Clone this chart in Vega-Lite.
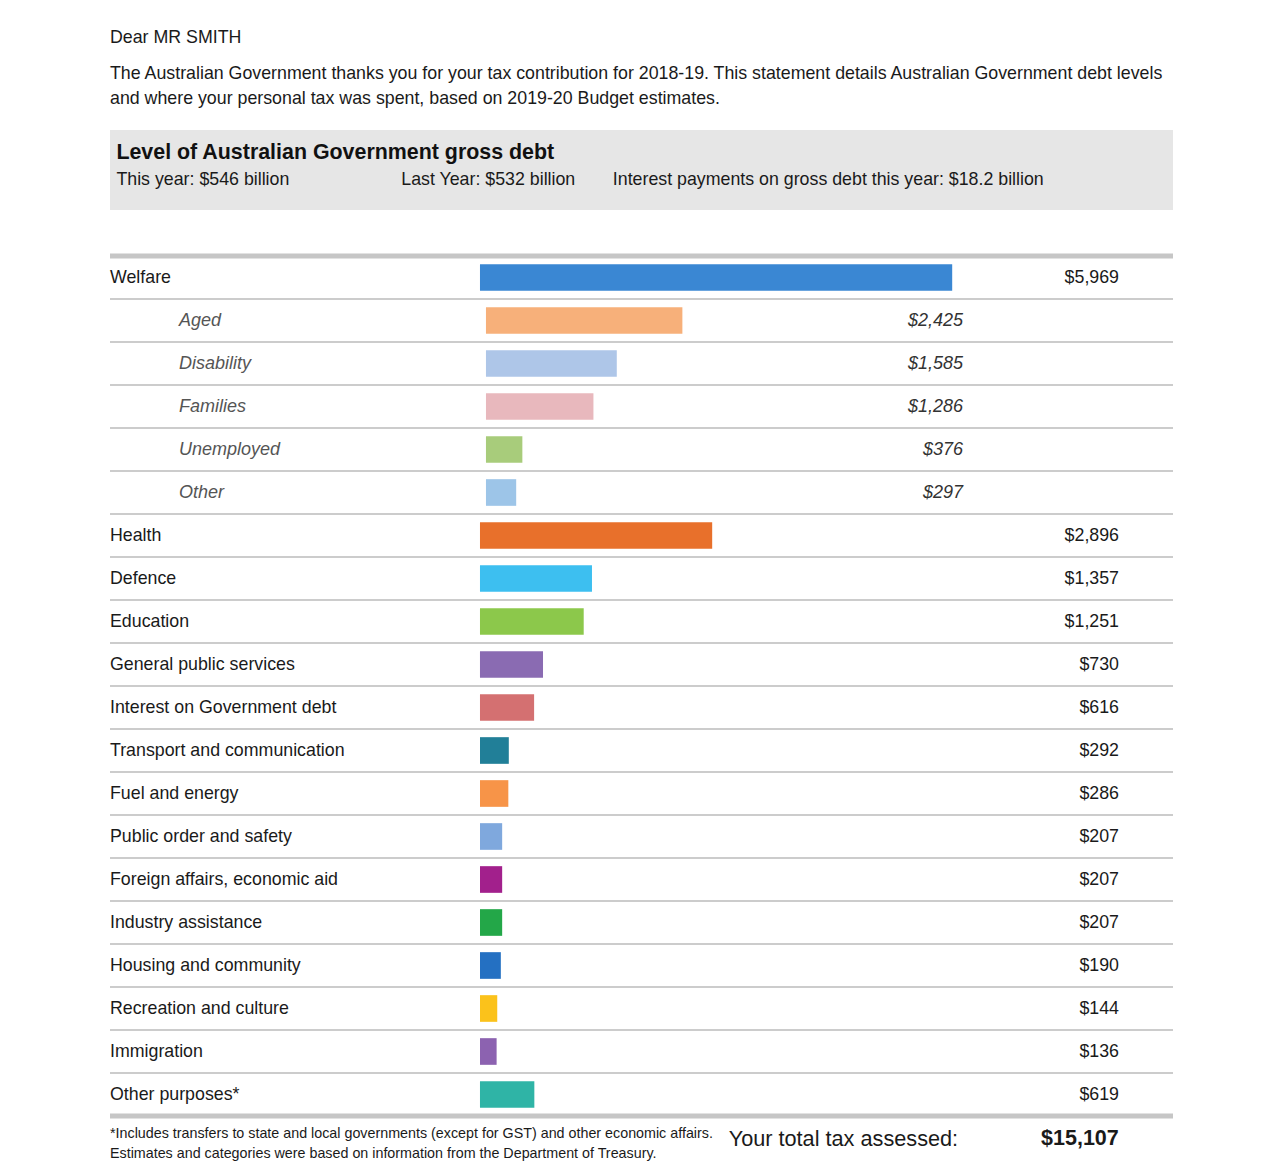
{
  "$schema": "https://vega.github.io/schema/vega-lite/v6.json",
  "background": "white",
  "padding": {"left": 107, "top": 29, "right": 110, "bottom": 0},
  "config": {
    "font": "Liberation Sans, Arial, sans-serif",
    "view": {"stroke": null},
    "text": {"font": "Liberation Sans, Arial, sans-serif", "color": "#1a1a1a"},
    "title": {"font": "Liberation Sans, Arial, sans-serif", "subtitleFont": "Liberation Sans, Arial, sans-serif"}
  },
  "datasets": {
    "rows": [
      {"category": "Welfare", "level": "main", "amount": 5969},
      {"category": "Aged", "level": "sub", "amount": 2425},
      {"category": "Disability", "level": "sub", "amount": 1585},
      {"category": "Families", "level": "sub", "amount": 1286},
      {"category": "Unemployed", "level": "sub", "amount": 376},
      {"category": "Other", "level": "sub", "amount": 297},
      {"category": "Health", "level": "main", "amount": 2896},
      {"category": "Defence", "level": "main", "amount": 1357},
      {"category": "Education", "level": "main", "amount": 1251},
      {"category": "General public services", "level": "main", "amount": 730},
      {"category": "Interest on Government debt", "level": "main", "amount": 616},
      {"category": "Transport and communication", "level": "main", "amount": 292},
      {"category": "Fuel and energy", "level": "main", "amount": 286},
      {"category": "Public order and safety", "level": "main", "amount": 207},
      {"category": "Foreign affairs, economic aid", "level": "main", "amount": 207},
      {"category": "Industry assistance", "level": "main", "amount": 207},
      {"category": "Housing and community", "level": "main", "amount": 190},
      {"category": "Recreation and culture", "level": "main", "amount": 144},
      {"category": "Immigration", "level": "main", "amount": 136},
      {"category": "Other purposes*", "level": "main", "amount": 619}
    ]
  },
  "spacing": 0,
  "vconcat": [
    {
      "spacing": 43,
      "vconcat": [
        {
          "width": 1063,
          "height": 80,
          "view": {"fill": "#e6e6e6", "stroke": null},
          "title": {
            "text": "Dear MR SMITH",
            "subtitle": [
              "The Australian Government thanks you for your tax contribution for 2018-19. This statement details Australian Government debt levels",
              "and where your personal tax was spent, based on 2019-20 Budget estimates."
            ],
            "anchor": "start",
            "frame": "group",
            "fontSize": 17.8,
            "fontWeight": "normal",
            "color": "#1a1a1a",
            "subtitleFontSize": 17.8,
            "subtitleColor": "#1a1a1a",
            "subtitleLineHeight": 25,
            "subtitlePadding": 18,
            "offset": 22
          },
          "data": {"values": [{"heading": "Level of Australian Government gross debt", "this_year": "This year: $546 billion", "last_year": "Last Year: $532 billion", "interest": "Interest payments on gross debt this year: $18.2 billion"}]},
          "layer": [
            {
              "mark": {"type": "text", "align": "left", "baseline": "middle", "fontSize": 21.4, "fontWeight": "bold", "color": "#111111"},
              "encoding": {
                "x": {"datum": 0.6, "type": "quantitative", "scale": {"domain": [0, 100], "nice": false, "zero": false}, "axis": null},
                "y": {"datum": 28.5, "type": "quantitative", "scale": {"domain": [0, 100], "reverse": true, "nice": false, "zero": false}, "axis": null},
                "text": {"field": "heading"}
              }
            },
            {
              "mark": {"type": "text", "align": "left", "baseline": "middle", "fontSize": 17.8},
              "encoding": {
                "x": {"datum": 0.6, "type": "quantitative"},
                "y": {"datum": 62, "type": "quantitative"},
                "text": {"field": "this_year"}
              }
            },
            {
              "mark": {"type": "text", "align": "left", "baseline": "middle", "fontSize": 17.8},
              "encoding": {
                "x": {"datum": 27.4, "type": "quantitative"},
                "y": {"datum": 62, "type": "quantitative"},
                "text": {"field": "last_year"}
              }
            },
            {
              "mark": {"type": "text", "align": "left", "baseline": "middle", "fontSize": 17.8},
              "encoding": {
                "x": {"datum": 47.3, "type": "quantitative"},
                "y": {"datum": 62, "type": "quantitative"},
                "text": {"field": "interest"}
              }
            }
          ]
        },
        {
          "width": 1063,
          "height": 860,
          "data": {"name": "rows"},
          "encoding": {
            "y": {
              "field": "category",
              "type": "nominal",
              "sort": null,
              "scale": {
                "domain": ["Welfare", "Aged", "Disability", "Families", "Unemployed", "Other", "Health", "Defence", "Education", "General public services", "Interest on Government debt", "Transport and communication", "Fuel and energy", "Public order and safety", "Foreign affairs, economic aid", "Industry assistance", "Housing and community", "Recreation and culture", "Immigration", "Other purposes*"],
                "paddingInner": 0,
                "paddingOuter": 0
              },
              "axis": null
            }
          },
          "layer": [
            {
              "transform": [{"filter": "datum.category !== 'Other purposes*'"}],
              "mark": {"type": "rule", "color": "#cccccc", "strokeWidth": 2},
              "encoding": {"y": {"field": "category", "type": "nominal", "bandPosition": 1}}
            },
            {
              "transform": [{"filter": "datum.category === 'Welfare'"}],
              "mark": {"type": "rule", "color": "#c6c6c6", "strokeWidth": 5},
              "encoding": {"y": {"field": "category", "type": "nominal", "bandPosition": 0}}
            },
            {
              "transform": [{"filter": "datum.category === 'Other purposes*'"}],
              "mark": {"type": "rule", "color": "#c6c6c6", "strokeWidth": 5},
              "encoding": {"y": {"field": "category", "type": "nominal", "bandPosition": 1}}
            },
            {
              "transform": [{"filter": "datum.level === 'main'"}],
              "mark": {"type": "bar", "height": {"band": 0.62}},
              "encoding": {
                "x": {"field": "amount", "type": "quantitative", "scale": {"domain": [-4814, 8796], "nice": false, "zero": false}, "axis": null},
                "x2": {"datum": -77},
                "color": {
                  "field": "category",
                  "type": "nominal",
                  "scale": {
                    "domain": ["Welfare", "Aged", "Disability", "Families", "Unemployed", "Other", "Health", "Defence", "Education", "General public services", "Interest on Government debt", "Transport and communication", "Fuel and energy", "Public order and safety", "Foreign affairs, economic aid", "Industry assistance", "Housing and community", "Recreation and culture", "Immigration", "Other purposes*"],
                    "range": ["#3a87d3", "#f7b07a", "#aec6e8", "#e8b8bd", "#a8cc7b", "#9dc5e8", "#e8702b", "#3dbff0", "#8cc84b", "#8a6bb2", "#d47071", "#217f98", "#f79448", "#7fa8dd", "#a2208c", "#23a748", "#2470c2", "#fbc21b", "#8c62b0", "#2fb4a6"]
                  },
                  "legend": null
                }
              }
            },
            {
              "transform": [{"filter": "datum.level === 'sub'"}],
              "mark": {"type": "bar", "height": {"band": 0.62}},
              "encoding": {
                "x": {"field": "amount", "type": "quantitative", "scale": {"domain": [-4904, 8707], "nice": false, "zero": false}, "axis": null},
                "x2": {"datum": -90},
                "color": {"field": "category", "type": "nominal", "legend": null}
              }
            },
            {
              "transform": [{"filter": "datum.level === 'main'"}],
              "mark": {"type": "text", "align": "left", "baseline": "middle", "fontSize": 17.8, "color": "#1a1a1a"},
              "encoding": {
                "x": {"field": "level", "type": "nominal", "scale": {"type": "point", "domain": ["main", "sub"], "range": [0, 69], "padding": 0}, "axis": null},
                "text": {"field": "category"}
              }
            },
            {
              "transform": [{"filter": "datum.level === 'sub'"}],
              "mark": {"type": "text", "align": "left", "baseline": "middle", "fontSize": 18, "fontStyle": "italic", "color": "#555555"},
              "encoding": {
                "x": {"field": "level", "type": "nominal", "scale": {"type": "point", "domain": ["main", "sub"], "range": [0, 69], "padding": 0}, "axis": null},
                "text": {"field": "category"}
              }
            },
            {
              "transform": [{"filter": "datum.level === 'main'"}],
              "mark": {"type": "text", "align": "right", "baseline": "middle", "fontSize": 17.8, "color": "#1a1a1a"},
              "encoding": {
                "x": {"field": "level", "type": "nominal", "scale": {"type": "point", "domain": ["main", "sub"], "range": [1009, 853], "padding": 0}, "axis": null},
                "text": {"field": "amount", "type": "quantitative", "format": "$,.0f"}
              }
            },
            {
              "transform": [{"filter": "datum.level === 'sub'"}],
              "mark": {"type": "text", "align": "right", "baseline": "middle", "fontSize": 18, "fontStyle": "italic", "color": "#333333"},
              "encoding": {
                "x": {"field": "level", "type": "nominal", "scale": {"type": "point", "domain": ["main", "sub"], "range": [1009, 853], "padding": 0}, "axis": null},
                "text": {"field": "amount", "type": "quantitative", "format": "$,.0f"}
              }
            }
          ],
          "resolve": {"scale": {"x": "independent"}}
        }
      ]
    },
    {
      "width": 1063,
      "height": 46,
      "data": {"name": "rows"},
      "transform": [{"filter": "datum.level === 'main'"}, {"aggregate": [{"op": "sum", "field": "amount", "as": "total"}]}],
      "layer": [
        {
          "mark": {"type": "text", "align": "left", "baseline": "middle", "fontSize": 14.3, "lineHeight": 20, "color": "#1a1a1a"},
          "encoding": {
            "x": {"datum": 0, "type": "quantitative", "scale": {"domain": [0, 100], "nice": false, "zero": false}, "axis": null},
            "y": {"datum": 33, "type": "quantitative", "scale": {"domain": [0, 100], "reverse": true, "nice": false, "zero": false}, "axis": null},
            "text": {"value": ["*Includes transfers to state and local governments (except for GST) and other economic affairs.", "Estimates and categories were based on information from the Department of Treasury."]}
          }
        },
        {
          "mark": {"type": "text", "align": "left", "baseline": "middle", "fontSize": 21.7, "color": "#1a1a1a"},
          "encoding": {
            "x": {"datum": 58.2, "type": "quantitative"},
            "y": {"datum": 44, "type": "quantitative"},
            "text": {"value": "Your total tax assessed:"}
          }
        },
        {
          "mark": {"type": "text", "align": "right", "baseline": "middle", "fontSize": 21.5, "fontWeight": "bold", "color": "#1a1a1a"},
          "encoding": {
            "x": {"datum": 94.9, "type": "quantitative"},
            "y": {"datum": 44, "type": "quantitative"},
            "text": {"field": "total", "type": "quantitative", "format": "$,.0f"}
          }
        }
      ]
    }
  ]
}
